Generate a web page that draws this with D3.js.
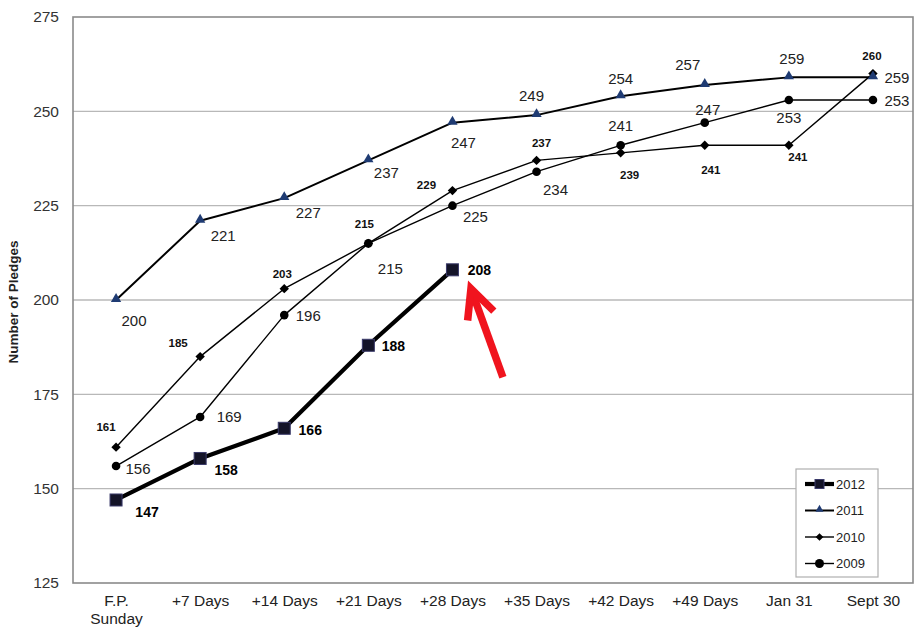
<!DOCTYPE html>
<html><head><meta charset="utf-8">
<script src="https://cdn.jsdelivr.net/npm/d3@7"></script>
<style>
html,body{margin:0;padding:0;background:#fff;}
svg{display:block;font-family:Arial,"Liberation Sans",sans-serif;}
</style></head>
<body>
<svg id="chart" width="917" height="627"></svg>
<script>
// ---- data ----
const categories = ["F.P.|Sunday","+7 Days","+14 Days","+21 Days","+28 Days","+35 Days","+42 Days","+49 Days","Jan 31","Sept 30"];
const yTicks = [125,150,175,200,225,250,275];
const s2012 = [147,158,166,188,208];
const s2011 = [200,221,227,237,247,249,254,257,259,259];
const s2010 = [161,185,203,215,229,237,239,241,241,260];
const s2009 = [156,169,196,215,225,234,241,247,253,253];
const seriesNames = ["2012","2011","2010","2009"];
// arrow annotation in data units: [category index, value]
const arrowTail = [4.6, 179.5];
const arrowTip = [4.22, 203];

// ---- label offsets (layout) ----
const off2012 = [[31,12],[26,12],[26,2],[25,1],[27,0]];
const off2011 = [[18,20],[23,15],[24,14],[18,12],[11,20],[-5,-20],[0,-18],[-17,-20],[3,-19],[24,0]];
const off2010 = [[-10,-20],[-22,-14],[-2,-15],[-4,-19],[-26,-6],[5,-17],[9,22],[6,25],[9,12],[-1,-18]];
const off2009 = [[22,2],[29,0],[24,0],[22,25],[23,11],[19,18],[0,-20],[3,-13],[0,17],[24,0]];

const svg = d3.select("#chart");
const L = 73, R = 913, T = 17, B = 583;

const x = d3.scalePoint().domain(categories).range([L + 1, R + 2]).padding(0.5);
const y = d3.scaleLinear().domain([125, 275]).range([B, T]);
const xi = i => x(categories[0]) + i * x.step();

// gridlines
svg.append("g").selectAll("line").data(yTicks.slice(1, -1)).join("line")
  .attr("x1", L).attr("x2", R).attr("y1", d => y(d)).attr("y2", d => y(d))
  .attr("stroke", "#b8b8b8").attr("stroke-width", 1.3);

// frame
svg.append("rect").attr("x", L).attr("y", T).attr("width", R - L).attr("height", B - T)
  .attr("fill", "none").attr("stroke", "#8a8a8a").attr("stroke-width", 1.6);

// y axis
const yAxis = svg.append("g").attr("transform", `translate(${L},0)`)
  .call(d3.axisLeft(y).tickValues(yTicks).tickSize(0).tickPadding(14));
yAxis.select(".domain").remove();
yAxis.selectAll("text").attr("font-size", 15.5).attr("fill", "#333").attr("font-family", "Arial,'Liberation Sans',sans-serif");

svg.append("text").attr("transform", `translate(18,${(T + B) / 2 + 2}) rotate(-90)`)
  .attr("text-anchor", "middle").attr("font-size", 13.5).attr("font-weight", "bold").attr("fill", "#222")
  .text("Number of Pledges");

// x axis
const xAxis = svg.append("g").attr("transform", `translate(0,${B})`)
  .call(d3.axisBottom(x).tickSize(0).tickPadding(12).tickFormat(() => ""));
xAxis.select(".domain").remove();
xAxis.selectAll(".tick").each(function (d) {
  const t = d3.select(this).select("text").attr("font-size", 15.5).attr("fill", "#222")
    .attr("font-family", "'Liberation Sans Narrow','Arial Narrow',Arial,sans-serif");
  d.split("|").forEach((part, k) => {
    t.append("tspan").attr("x", 0).attr("dy", k === 0 ? "0.71em" : "1.15em").text(part);
  });
});

// line generator
const line = d3.line().x((d, i) => xi(i)).y(d => y(d));

function drawSeries(vals, width) {
  svg.append("path").datum(vals).attr("d", line).attr("fill", "none")
    .attr("stroke", "#000").attr("stroke-width", width).attr("stroke-linejoin", "round");
}
function labels(vals, offs, size, weight, color) {
  svg.append("g").selectAll("text").data(vals).join("text")
    .attr("x", (d, i) => xi(i) + offs[i][0]).attr("y", (d, i) => y(d) + offs[i][1])
    .attr("text-anchor", "middle").attr("dominant-baseline", "central")
    .attr("font-size", size).attr("font-weight", weight).attr("fill", color).text(d => d);
}

// 2009
drawSeries(s2009, 1.4);
svg.append("g").selectAll("circle").data(s2009).join("circle")
  .attr("cx", (d, i) => xi(i)).attr("cy", d => y(d)).attr("r", 4.3).attr("fill", "#000");
// 2010
drawSeries(s2010, 1.4);
svg.append("g").selectAll("path").data(s2010).join("path")
  .attr("transform", (d, i) => `translate(${xi(i)},${y(d)}) rotate(45)`)
  .attr("d", d3.symbol(d3.symbolSquare, 44))
  .attr("fill", "#000");
// 2011
drawSeries(s2011, 2);
svg.append("g").selectAll("path").data(s2011).join("path")
  .attr("transform", (d, i) => `translate(${xi(i)},${y(d) - 1})`)
  .attr("d", d3.symbol(d3.symbolTriangle, 46)).attr("fill", "#1f3b73");
// 2012
drawSeries(s2012, 4.2);
svg.append("g").selectAll("rect").data(s2012).join("rect")
  .attr("x", (d, i) => xi(i) - 6).attr("y", d => y(d) - 6).attr("width", 12).attr("height", 12)
  .attr("fill", "#141428").attr("stroke", "#3a3a6a").attr("stroke-width", 1);

// labels
labels(s2009, off2009, 15, "normal", "#222");
labels(s2010, off2010, 11.5, "bold", "#111");
labels(s2011, off2011, 15, "normal", "#222");
labels(s2012, off2012, 14, "bold", "#000");

// red arrow
const tip = [xi(arrowTip[0]), y(arrowTip[1])];
const tail = [xi(arrowTail[0]), y(arrowTail[1])];
const ang = Math.atan2(tail[1] - tip[1], tail[0] - tip[0]);
const wing = 32, spread = 0.45;
const w1 = [tip[0] + wing * Math.cos(ang + spread), tip[1] + wing * Math.sin(ang + spread)];
const w2 = [tip[0] + wing * Math.cos(ang - spread), tip[1] + wing * Math.sin(ang - spread)];
const shaftStart = [tip[0] + 4 * Math.cos(ang), tip[1] + 4 * Math.sin(ang)];
svg.append("path").attr("d", d3.line()([tail, shaftStart]))
  .attr("stroke", "#f0141e").attr("stroke-width", 7.5).attr("fill", "none");
svg.append("path").attr("d", d3.line()([w1, tip, w2]))
  .attr("stroke", "#f0141e").attr("stroke-width", 7.5).attr("fill", "none").attr("stroke-linejoin", "miter").attr("stroke-miterlimit", 10);

// legend
const lg = svg.append("g").attr("transform", "translate(796,469)");
lg.append("rect").attr("width", 82).attr("height", 108).attr("fill", "#fff")
  .attr("stroke", "#b0b0b0").attr("stroke-width", 1.2);
const lgWidths = [4.2, 2, 1.4, 1.4];
seriesNames.forEach((nm, k) => {
  const cy = 15 + k * 26.5;
  lg.append("line").attr("x1", 9).attr("x2", 38).attr("y1", cy).attr("y2", cy)
    .attr("stroke", "#000").attr("stroke-width", lgWidths[k]);
  const mx = 23.5;
  if (k === 0) lg.append("rect").attr("x", mx - 4.5).attr("y", cy - 4.5).attr("width", 9).attr("height", 9).attr("fill", "#141428").attr("stroke", "#3a3a6a");
  if (k === 1) lg.append("path").attr("transform", `translate(${mx},${cy - 1})`).attr("d", d3.symbol(d3.symbolTriangle, 28)).attr("fill", "#1f3b73");
  if (k === 2) lg.append("path").attr("transform", `translate(${mx},${cy}) rotate(45)`).attr("d", d3.symbol(d3.symbolSquare, 30)).attr("fill", "#000");
  if (k === 3) lg.append("circle").attr("cx", mx).attr("cy", cy).attr("r", 4.5).attr("fill", "#000");
  lg.append("text").attr("x", 40).attr("y", cy).attr("dominant-baseline", "central")
    .attr("font-size", 13).attr("fill", "#222").text(nm);
});
</script>
</body></html>
